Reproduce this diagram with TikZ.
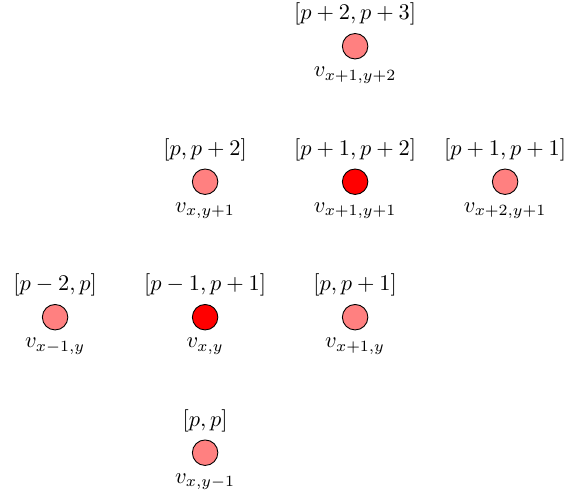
\documentclass[tikz,border=0pt]{standalone}
\usetikzlibrary{positioning}

\begin{document}
\begin{tikzpicture}[
  vert/.style={circle,draw,fill=red!50,minimum size=0.4cm,inner sep=0pt},
  cur/.style={vert,fill=red},
  node distance=2.127cm and 2.355cm, on grid
]

\useasboundingbox (-3.22,-2.79) rectangle (5.65,4.98);

% current cells
\node[cur, label=above:{$[p-1,p+1]$}, label=below:{$v_{x,y}$}] (vxy) at (0,0) {};
\node[vert, left=of vxy, label=above:{$[p-2,p]$}, label=below:{$v_{x-1,y}$}] (vxmy) {};
\node[vert, right=of vxy, label=above:{$[p,p+1]$}, label=below:{$v_{x+1,y}$}] (vxpy) {};
\node[vert, below=of vxy, label=above:{$[p,p]$}, label=below:{$v_{x,y-1}$}] (vxym) {};

% next row
\node[vert, above=of vxy, label=above:{$[p,p+2]$}, label=below:{$v_{x,y+1}$}] (vxyp) {};
\node[cur, right=of vxyp, label=above:{$[p+1,p+2]$}, label=below:{$v_{x+1,y+1}$}] (vxpyp) {};
\node[vert, right=of vxpyp, label=above:{$[p+1,p+1]$}, label=below:{$v_{x+2,y+1}$}] (vxppyp) {};
\node[vert, above=of vxpyp, label=above:{$[p+2,p+3]$}, label=below:{$v_{x+1,y+2}$}] (vxpypp) {};

\end{tikzpicture}
\end{document}
